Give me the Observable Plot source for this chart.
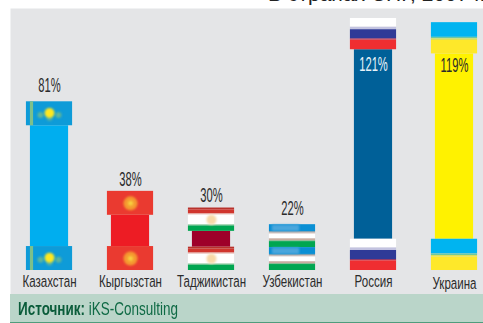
<!DOCTYPE html>
<html lang="ru">
<head>
<meta charset="utf-8">
<script src="https://cdn.jsdelivr.net/npm/d3@7"></script>
<script src="https://cdn.jsdelivr.net/npm/@observablehq/plot@0.6"></script>
<style>
  html, body { margin: 0; padding: 0; background: #fff; }
  body { width: 483px; height: 323px; overflow: hidden; font-family: "Liberation Sans", Arial, sans-serif; }
  #title { height: 8px; overflow: hidden; position: relative; }
  #title span { position: absolute; left: 268px; top: -18px; font-size: 21px; line-height: 24px; color: #222; white-space: nowrap; }
  #chart svg { display: block; }
  #source { box-sizing: border-box; margin-left: 10px; height: 29px; background: #bad5c9; border-bottom: 1px solid #4f9c7c; position: relative; }
  #source span { position: absolute; left: 8px; top: 4px; font-size: 19px; line-height: 22px; color: #0f6a45; white-space: nowrap; transform: scaleX(0.71); transform-origin: left center; }
  #source b { color: #0a5c3a; }
</style>
</head>
<body>
<div id="title"><span>В странах СНГ, 2007 г.</span></div>
<div id="chart"></div>
<div id="source"><span><b>Источник:</b> iKS-Consulting</span></div>
<script>
// Mobile penetration by country, percent
const countries = ["Казахстан", "Кыргызстан", "Таджикистан", "Узбекистан", "Россия", "Украина"];
const values = [81, 38, 30, 22, 121, 119];
const shaftColors = ["#00aeef", "#ed1c24", "#9e0029", "#0a8fd4", "#006098", "#fff200"];
const flagSpans = [11.5, 11.5, 11.2, 11, 15, 15];
const labelColors = ["#2b2b2b", "#2b2b2b", "#2b2b2b", "#2b2b2b", "#e8f2f8", "#2b2b2b"];

// Flag bands per country: [share of the flag from its top edge, colour]
const kazakhBands = [[1, "#0e9bd8"]];
const kyrgyzBands = [[1, "#ea3a30"]];
const tajikBands = [[0.08, "#b8322c"], [0.25, "#d0352d"], [0.3, "#eba9a0"], [0.72, "#ffffff"], [0.77, "#8fd0a0"], [1, "#00a651"]];
const uzbekBands = [[0.3, "#0a8fd4"], [0.36, "#7d9fb0"], [0.41, "#d4b8ad"], [0.62, "#ffffff"], [0.7, "#c9aca0"], [0.74, "#7fb58a"], [1, "#00a651"]];
const russianBands = [[0.28, "#ffffff"], [0.36, "#c3c3e0"], [0.65, "#2f3a97"], [0.69, "#8f2f60"], [1, "#ef2e31"]];
const ukrainianBands = [[0.47, "#00b4f0"], [0.52, "#6cc8a0"], [0.57, "#d8e05a"], [1, "#fee82a"]];
const flagBands = [kazakhBands, kyrgyzBands, tajikBands, uzbekBands, russianBands, ukrainianBands];

const flagStripes = countries.flatMap((country, i) => {
  const span = flagSpans[i];
  const bandsAt = base => {
    let from = 0;
    return flagBands[i].map(([to, color]) => {
      const stripe = {country, y1: base - from * span, y2: base - to * span, color};
      from = to;
      return stripe;
    });
  };
  return [...bandsAt(values[i]), ...bandsAt(span)];
});

const shafts = countries.map((country, i) => ({country, y1: flagSpans[i], y2: values[i] - flagSpans[i], color: shaftColors[i]}));
const totals = countries.map((country, i) => ({country, value: values[i], color: labelColors[i]}));

// Emblem centres on each flag, in the same units as the bars
const flagMiddles = (name, share) => {
  const i = countries.indexOf(name);
  return [
    {country: name, y: values[i] - share * flagSpans[i]},
    {country: name, y: flagSpans[i] - share * flagSpans[i]}
  ];
};
const kazakhMid = flagMiddles("Казахстан", 0.47);
const kyrgyzMid = flagMiddles("Кыргызстан", 0.5);
const tajikMid = flagMiddles("Таджикистан", 0.5);
const uzbekMid = flagMiddles("Узбекистан", 0.16);

// Percent labels: each sits at its own distance from the top of its column
const valueLabel = (name, dy) => Plot.text(totals.filter(d => d.country === name), {
  x: "country", y: "value", text: d => `${d.value}%`, dy,
  fill: "color", fontSize: 20, className: "narrow-value"
});
const nameLabel = (names, dy) => Plot.text(names, {
  x: d => d, y: () => 0, text: d => d, dy,
  fill: "#2b2b2b", fontSize: 17, className: "narrow-name"
});

const chart = Plot.plot({
  width: 483,
  height: 286,
  marginLeft: 10, marginRight: 0, marginTop: 0, marginBottom: 0,
  style: {fontFamily: '"Liberation Sans", Arial, sans-serif', background: "#fff"},
  x: {type: "band", domain: countries, range: [-8.9, 511.9], padding: 0.43, round: false, axis: null},
  y: {domain: [0, 121], range: [262, 10], axis: null},
  marks: [
    Plot.frame({fill: "#e4e5e7", stroke: "none"}),
    Plot.barY(shafts, {x: "country", y1: "y1", y2: "y2", fill: "color", insetLeft: 4, insetRight: 4}),
    Plot.barY(flagStripes, {x: "country", y1: "y1", y2: "y2", fill: "color"}),

    // Kazakhstan: ornament strip, sun and wings
    Plot.barY(countries.slice(0, 1).flatMap((country, i) => [
      {country, y1: values[i] - flagSpans[i], y2: values[i]},
      {country, y1: 0, y2: flagSpans[i]}
    ]), {x: "country", y1: "y1", y2: "y2", fill: "#7dc08a", insetLeft: 4, insetRight: 39}),
    Plot.dot(kazakhMid, {x: "country", y: "y", dy: 2, dx: -9, r: 3, fill: "#5fb59a", imageFilter: "blur(0.8px)"}),
    Plot.dot(kazakhMid, {x: "country", y: "y", dy: 2, dx: 9, r: 3, fill: "#5fb59a", imageFilter: "blur(0.8px)"}),
    Plot.dot(kazakhMid, {x: "country", y: "y", dy: 5, r: 3, fill: "#4fb0a8", imageFilter: "blur(0.8px)"}),
    Plot.dot(kazakhMid, {x: "country", y: "y", r: 5, fill: "#ffe81f", imageFilter: "blur(0.8px)"}),

    // Kyrgyzstan: sun
    Plot.dot(kyrgyzMid, {x: "country", y: "y", r: 7, fill: "#f59a30", imageFilter: "blur(0.8px)"}),
    Plot.dot(kyrgyzMid, {x: "country", y: "y", r: 2.5, fill: "#f7d040", imageFilter: "blur(0.8px)"}),

    // Tajikistan: crown
    Plot.dot(tajikMid, {x: "country", y: "y", r: 5, fill: "#f7d9a8", imageFilter: "blur(1px)"}),

    // Uzbekistan: moon and stars
    Plot.barY(uzbekMid, {x: "country", y1: d => d.y - 1.5, y2: d => d.y + 1.5, fill: "#4aa6dc", insetLeft: 3, insetRight: 16, imageFilter: "blur(1px)"}),

    valueLabel("Казахстан", -16),
    valueLabel("Кыргызстан", -12),
    valueLabel("Таджикистан", -12),
    valueLabel("Узбекистан", -16),
    valueLabel("Россия", 46),
    valueLabel("Украина", 43),
    nameLabel(countries.slice(0, 5), 11),
    nameLabel(countries.slice(5), 13)
  ]
});
document.getElementById("chart").append(chart);

// Condense the chart's lettering to its tall, narrow setting
const condense = (selector, factor) => {
  chart.querySelectorAll(`.${selector} text`).forEach(node => {
    const transform = node.getAttribute("transform") || "";
    node.setAttribute("transform", `${transform} scale(${factor},1)`);
  });
};
condense("narrow-value", 0.56);
condense("narrow-name", 0.68);
</script>
</body>
</html>
